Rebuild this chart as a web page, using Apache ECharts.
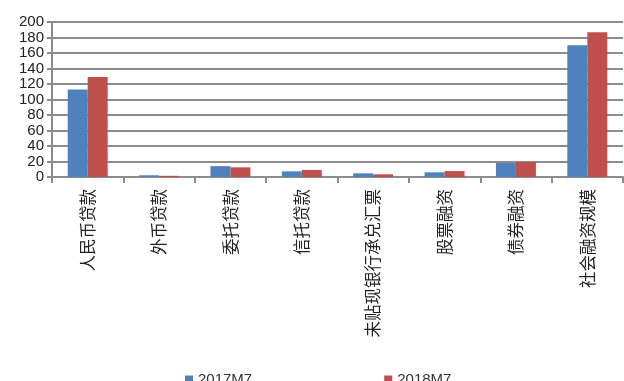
<!DOCTYPE html>
<html><head><meta charset="utf-8">
<script src="https://cdn.jsdelivr.net/npm/echarts@6/dist/echarts.min.js"></script>
<style>html,body{margin:0;padding:0;background:#fff}#c{width:624px;height:381px}</style>
</head><body><div id="c"></div>
<script>
const categories = ['人民币贷款','外币贷款','委托贷款','信托贷款','未贴现银行承兑汇票','股票融资','债券融资','社会融资规模'];
const series2017 = [113, 2.2, 14, 7.3, 4.7, 6, 18, 170];
const series2018 = [129, 1.5, 12.5, 9, 3.5, 7.7, 19.4, 186.7];
const seriesNames = ['2017M7','2018M7'];
const yTicks = {min:0, max:200, interval:20};

const chart = echarts.init(document.getElementById('c'));
chart.setOption({
  animation:false,
  textStyle:{fontFamily:'Liberation Sans, Noto Sans CJK SC'},
  grid:{left:52, right:1, top:22, bottom:204},
  legend:{
    data:seriesNames, bottom:-11, left:180, itemGap:132,
    itemWidth:8, itemHeight:8, icon:'rect',
    textStyle:{fontSize:15, color:'#333', fontFamily:'Liberation Sans'}
  },
  xAxis:{
    type:'category', data:categories,
    axisLine:{lineStyle:{color:'#8c8c8c', width:2}},
    axisTick:{show:true, length:6, lineStyle:{color:'#8c8c8c', width:2}},
    axisLabel:{rotate:90, fontSize:16.5, color:'#222', margin:12, interval:0,
      fontFamily:'Noto Sans CJK SC'}
  },
  yAxis:{
    type:'value', min:yTicks.min, max:yTicks.max, interval:yTicks.interval,
    axisLine:{show:true, lineStyle:{color:'#8c8c8c', width:2}},
    axisTick:{show:true, length:5, lineStyle:{color:'#8c8c8c', width:2}},
    splitLine:{lineStyle:{color:'#8c8c8c', width:2}},
    axisLabel:{fontSize:15, color:'#222', margin:8}
  },
  series:[
    {name:seriesNames[0], type:'bar', data:series2017, barGap:'0%', barCategoryGap:'44%',
      itemStyle:{color:'#4F81BD'}},
    {name:seriesNames[1], type:'bar', data:series2018,
      itemStyle:{color:'#C0504D'}}
  ]
});
</script></body></html>
